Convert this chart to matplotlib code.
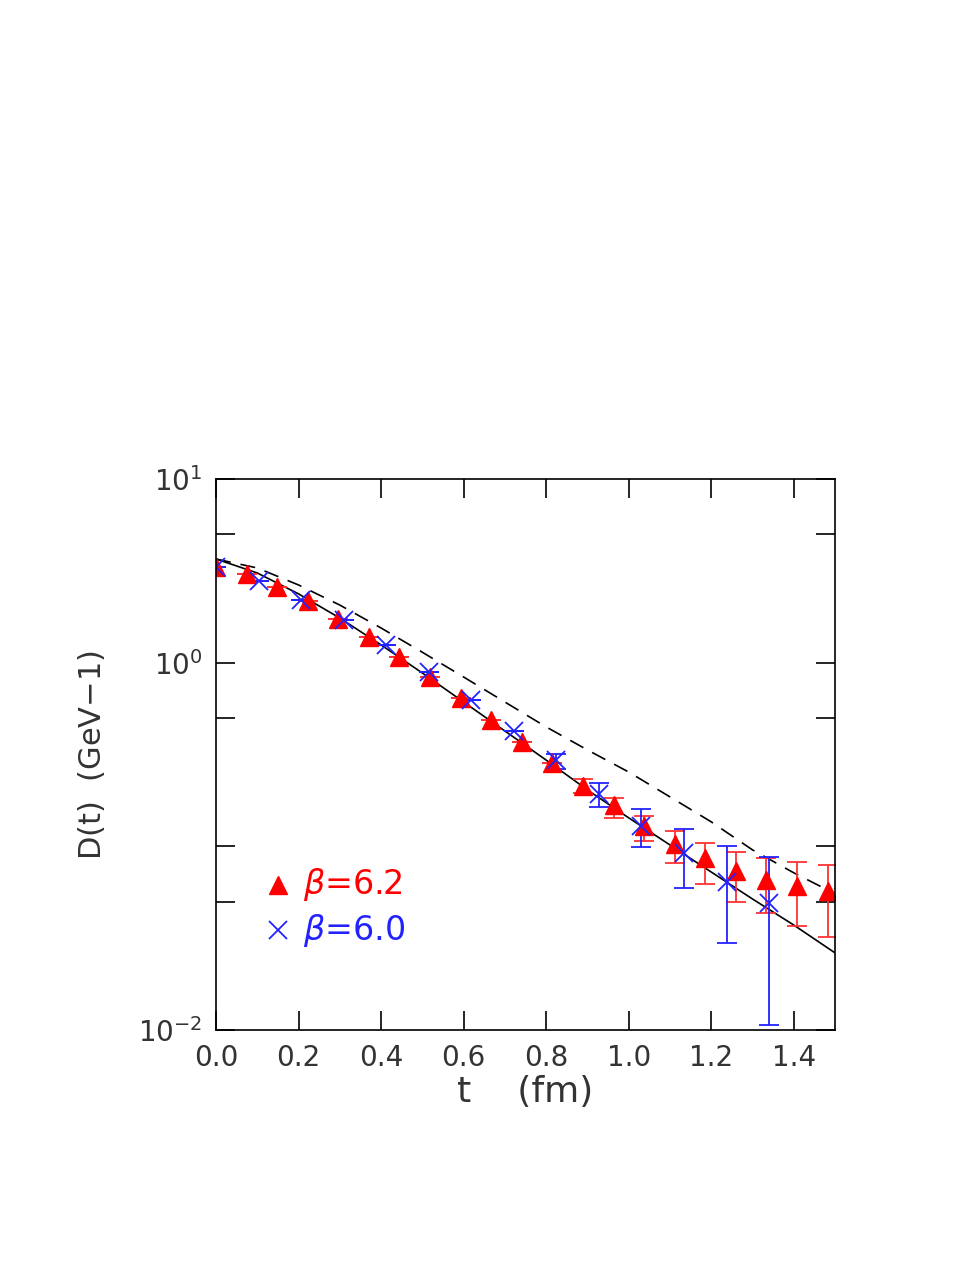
import matplotlib
matplotlib.use('Agg')
from matplotlib import pyplot as plt
from matplotlib.ticker import FixedLocator, NullLocator, FixedFormatter
import numpy as np

# beta = 6.2 data
t_62 = [0.0, 0.0741, 0.1482, 0.2223, 0.2964, 0.3705, 0.4446, 0.5187, 0.5928, 0.6669,
        0.741, 0.8151, 0.8892, 0.9633, 1.0374, 1.1115, 1.1856, 1.2597, 1.3338, 1.4079, 1.482]
d_62 = [3.32, 3.04, 2.58, 2.17, 1.73, 1.38, 1.07, 0.836, 0.643, 0.488,
        0.370, 0.284, 0.213, 0.168, 0.129, 0.103, 0.0865, 0.0735, 0.0656, 0.0608, 0.0571]
hi_62 = [3.32, 3.04, 2.58, 2.17, 1.73, 1.38, 1.07, 0.836, 0.643, 0.488,
         0.370, 0.284, 0.232, 0.183, 0.146, 0.121, 0.1045, 0.0933, 0.0865, 0.0822, 0.0792]
lo_62 = [3.32, 3.04, 2.58, 2.17, 1.73, 1.38, 1.07, 0.836, 0.643, 0.488,
         0.370, 0.284, 0.195, 0.143, 0.107, 0.0812, 0.0625, 0.0498, 0.0434, 0.0369, 0.0321]

# beta = 6.0 data
t_60 = [0.0, 0.1031, 0.2062, 0.3093, 0.4124, 0.5155, 0.6186, 0.7217, 0.8248, 0.9279,
        1.031, 1.1341, 1.2372, 1.3403]
d_60 = [3.32, 2.78, 2.19, 1.71, 1.25, 0.889, 0.626, 0.425, 0.295, 0.193,
        0.129, 0.092, 0.064, 0.0492]
hi_60 = [3.32, 2.78, 2.19, 1.71, 1.25, 0.889, 0.626, 0.425, 0.318, 0.221,
         0.160, 0.124, 0.1005, 0.0875]
lo_60 = [3.32, 2.78, 2.19, 1.71, 1.25, 0.889, 0.626, 0.425, 0.264, 0.164,
         0.0993, 0.0594, 0.0298, 0.01064]

# model curves
t_curve = [0.0, 0.1, 0.2, 0.3, 0.4, 0.5, 0.6, 0.7, 0.8, 0.9, 1.0, 1.1, 1.2, 1.3, 1.4, 1.5]
solid = [3.67, 3.08, 2.37, 1.75, 1.25, 0.879, 0.611, 0.425, 0.295, 0.203,
         0.143, 0.1018, 0.0725, 0.0517, 0.0373, 0.0263]
dashed = [3.67, 3.28, 2.65, 2.06, 1.545, 1.14, 0.836, 0.611, 0.447, 0.335,
          0.254, 0.186, 0.136, 0.0957, 0.0718, 0.0552]

fig = plt.figure(figsize=(9.77, 12.64), dpi=100)
ax = fig.add_axes([0.2211, 0.1851, 0.6336, 0.4359])
ax.set_yscale('log')
ax.set_xlim(0, 1.5)
ax.set_ylim(0.01, 10)

ax.plot(t_curve, solid, color='black', lw=1.2)
ax.plot(t_curve, dashed, color='black', lw=1.2, dashes=(9, 6))

d62 = np.array(d_62)
ax.errorbar(t_62, d_62, yerr=[d62 - np.array(lo_62), np.array(hi_62) - d62],
            fmt='^', color='red', ms=13, ecolor='#ff3333', elinewidth=1.3, capsize=7, capthick=1.3)
d60 = np.array(d_60)
ax.errorbar(t_60, d_60, yerr=[d60 - np.array(lo_60), np.array(hi_60) - d60],
            fmt='x', color='#2222ff', ms=13, mew=1.3, ecolor='#2222ff', elinewidth=1.3,
            capsize=7, capthick=1.3)

tc = '#333333'
ax.xaxis.set_major_locator(FixedLocator([0.0, 0.2, 0.4, 0.6, 0.8, 1.0, 1.2, 1.4]))
ax.xaxis.set_major_formatter(FixedFormatter(['0.0', '0.2', '0.4', '0.6', '0.8', '1.0', '1.2', '1.4']))
ax.yaxis.set_major_locator(FixedLocator([0.01, 0.05, 0.1, 0.5, 1, 5, 10]))
ax.yaxis.set_major_formatter(FixedFormatter([r'$10^{-2}$', '', '', '', r'$10^{0}$', '', r'$10^{1}$']))
ax.yaxis.set_minor_locator(NullLocator())
ax.tick_params(which='both', direction='in', top=True, right=True, length=14, width=1.2,
               labelsize=20, labelcolor=tc, pad=10)
for s in ax.spines.values():
    s.set_linewidth(1.2)

ax.set_xlabel('t    (fm)', fontsize=26, color=tc, labelpad=2)
ax.set_ylabel('D(t)  (GeV$-$1)', fontsize=22, color=tc, labelpad=22)

ax.plot([0.15], [0.062], '^', color='red', ms=13, transform=ax.transData)
ax.plot([0.15], [0.035], 'x', color='#2222ff', ms=13, mew=1.3)
ax.text(0.21, 0.062, r'$\beta$=6.2', color='red', fontsize=24, va='center')
ax.text(0.21, 0.035, r'$\beta$=6.0', color='#2222ff', fontsize=24, va='center')

fig.savefig('out.png', dpi=100)
